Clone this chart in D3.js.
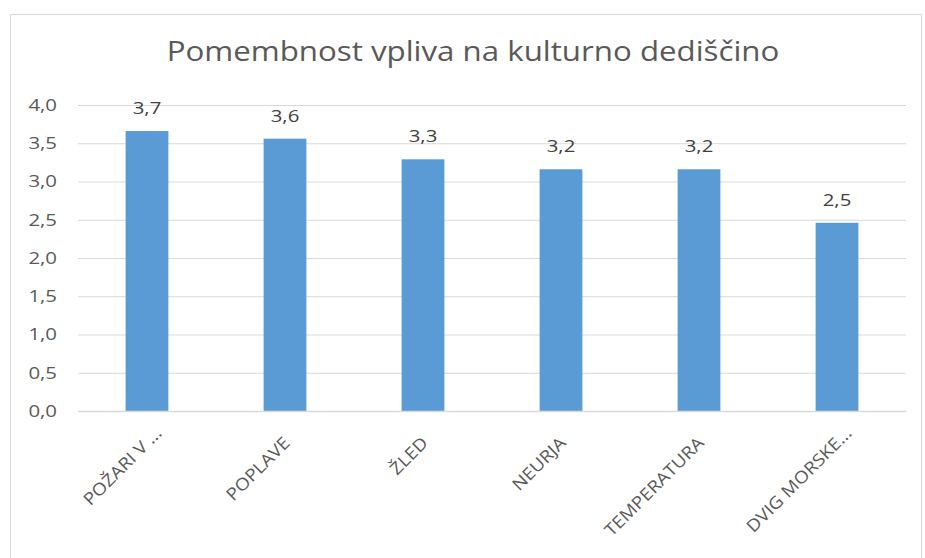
<!DOCTYPE html>
<html><head><meta charset="utf-8">
<script src="https://cdn.jsdelivr.net/npm/d3@7"></script>
<style>
html,body{margin:0;padding:0;background:#fff;}
svg{display:block;font-family:"Open Sans",sans-serif;}
</style></head>
<body>
<svg id="chart" width="925" height="558"></svg>
<script>
const title = "Pomembnost vpliva na kulturno dediščino";
const categories = ["POŽARI V ...", "POPLAVE", "ŽLED", "NEURJA", "TEMPERATURA", "DVIG MORSKE..."];
const values = [3.66, 3.56, 3.29, 3.16, 3.16, 2.46];
const yTicks = [0, 0.5, 1, 1.5, 2, 2.5, 3, 3.5, 4];

const svg = d3.select("#chart");
const W = 925, H = 558;
const m = {left: 78, right: 19, top: 105, bottom: 147};
const SX = 1.2;

svg.append("rect").attr("x", 10.5).attr("y", 14.5).attr("width", 911).attr("height", H)
  .attr("fill", "#fff").attr("stroke", "#d9d9d9").attr("stroke-width", 1);

const x = d3.scaleBand().domain(categories).range([m.left, W - m.right]).paddingInner(0.69).paddingOuter(0.345);
const y = d3.scaleLinear().domain([0, 4]).range([H - m.bottom, m.top]);
const fmt = v => d3.format(".1f")(v).replace(".", ",");

svg.append("g").attr("transform", `translate(473,61) scale(1.18,1)`)
  .append("text").attr("text-anchor", "middle")
  .attr("font-size", 26.5).attr("fill", "#595959").text(title);

// gridlines
const grid = svg.append("g").attr("transform", `translate(${m.left},0)`)
  .call(d3.axisLeft(y).tickValues(yTicks).tickSize(-(W - m.left - m.right)).tickFormat(""));
grid.select(".domain").remove();
grid.selectAll("line").attr("stroke", "#d9d9d9").attr("stroke-width", 1);

// y axis labels
const ya = svg.append("g").attr("transform", `translate(${m.left - 21},0)`)
  .call(d3.axisLeft(y).tickValues(yTicks).tickSize(0).tickFormat(fmt));
ya.select(".domain").remove();
ya.selectAll("text").attr("font-size", 17).attr("fill", "#595959").attr("font-family", "Open Sans,sans-serif")
  .attr("x", 0).attr("transform", `scale(${SX},1)`);

// bars
svg.append("g").selectAll("rect").data(values).join("rect")
  .attr("x", (d, i) => x(categories[i]))
  .attr("width", x.bandwidth())
  .attr("y", d => y(d))
  .attr("height", d => y(0) - y(d))
  .attr("fill", "#5b9bd5");

// value labels
svg.append("g").selectAll("g").data(values).join("g")
  .attr("transform", (d, i) => `translate(${x(categories[i]) + x.bandwidth() / 2},${y(d) - 17}) scale(${SX},1)`)
  .append("text")
  .attr("text-anchor", "middle").attr("font-size", 17).attr("fill", "#404040")
  .text(fmt);

// x axis
const xa = svg.append("g").attr("transform", `translate(0,${y(0)})`)
  .call(d3.axisBottom(x).tickSize(0).tickFormat(d => d));
xa.select(".domain").attr("stroke", "#d9d9d9").attr("stroke-width", 1.5);
xa.selectAll("text")
  .attr("font-size", 17).attr("fill", "#595959").attr("font-family", "Open Sans,sans-serif")
  .attr("text-anchor", "end").attr("dy", null).attr("y", 0)
  .attr("x", d => d.endsWith("...") ? 12.5 : 0)
  .attr("transform", `translate(6,33) rotate(-45) scale(1.12,1)`);
</script>
</body></html>
